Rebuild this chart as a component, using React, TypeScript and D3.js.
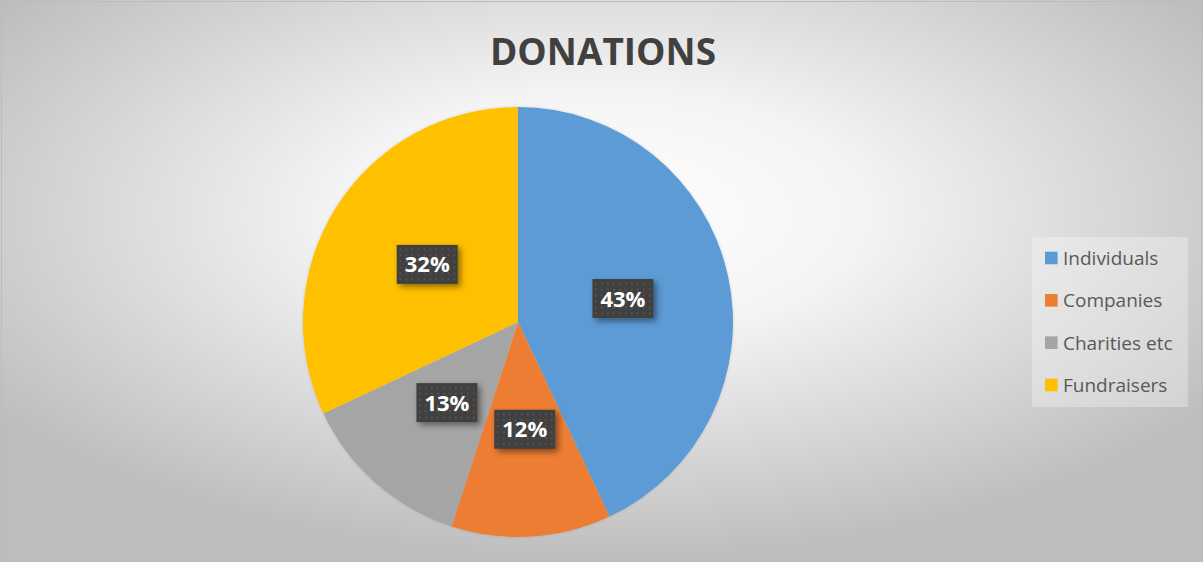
import React from "react";
import * as d3 from "d3";

const categories = ["Individuals", "Companies", "Charities etc", "Fundraisers"];
const values = [43, 12, 13, 32];
const colors = ["#5B9BD5", "#ED7D31", "#A5A5A5", "#FFC000"];
const title = "DONATIONS";

const W = 1203;
const H = 562;

export default function App() {
  const cx = 518;
  const cy = 322;
  const r = 215;
  const total = d3.sum(values);
  const pie = d3.pie<number>().sort(null).value((d) => d)(values);
  const arc = d3.arc<d3.PieArcDatum<number>>().innerRadius(0).outerRadius(r);
  const fmt = d3.format(".0%");

  const legendY = d3.scalePoint<string>().domain(categories).range([258, 385]);

  return (
    <div style={{ position: "absolute", left: 0, top: 0 }}>
      <svg width={W} height={H} style={{ display: "block" }}>
        <defs>
          <radialGradient id="bg" cx="50%" cy="38%" r="62%" fx="50%" fy="38%">
            <stop offset="0%" stopColor="#ffffff" />
            <stop offset="35%" stopColor="#f4f4f4" />
            <stop offset="100%" stopColor="#bdbdbd" />
          </radialGradient>
          <pattern id="dots" width="6" height="6" patternUnits="userSpaceOnUse">
            <rect width="6" height="6" fill="#404040" />
            <rect x="2" y="2" width="2" height="2" fill="#525252" />
          </pattern>
          <filter id="shadow" x="-30%" y="-30%" width="160%" height="160%">
            <feDropShadow dx="3" dy="3" stdDeviation="3" floodColor="#000" floodOpacity="0.45" />
          </filter>
          <filter id="pieShadow" x="-10%" y="-10%" width="120%" height="120%">
            <feDropShadow dx="0" dy="0" stdDeviation="1.5" floodColor="#000" floodOpacity="0.15" />
          </filter>
        </defs>
        <rect x={0} y={0} width={W} height={H} fill="url(#bg)" />
        <rect x={1.5} y={1.5} width={W - 3} height={H - 3} fill="none" stroke="#bcbcbc" strokeWidth={1} />

        <text
          x={603}
          y={65}
          textAnchor="middle"
          fontFamily="'Open Sans', sans-serif"
          fontWeight="bold"
          fontSize={37}
          fill="#404040"
        >
          {title}
        </text>

        <g transform={`translate(${cx},${cy})`} filter="url(#pieShadow)">
          {pie.map((p, i) => (
            <path key={i} d={arc(p) || ""} fill={colors[i]} />
          ))}
        </g>
        <g transform={`translate(${cx},${cy})`}>
          {pie.map((p, i) => {
            const [lx, ly] = arc.centroid(p);
            return (
              <g key={i} transform={`translate(${lx},${ly})`}>
                <rect x={-30.5} y={-19.5} width={61} height={39} fill="url(#dots)" filter="url(#shadow)" />
                <text
                  x={0}
                  y={8}
                  textAnchor="middle"
                  fontFamily="'Open Sans', sans-serif"
                  fontWeight="bold"
                  fontSize={22}
                  fill="#ffffff"
                >
                  {fmt(values[i] / total)}
                </text>
              </g>
            );
          })}
        </g>

        <rect x={1032} y={237} width={156} height={170} fill="#ffffff" fillOpacity={0.3} />
        {categories.map((c, i) => {
          const y = legendY(c) as number;
          return (
            <g key={c}>
              <rect x={1045} y={y - 6.3} width={12.6} height={12.6} fill={colors[i]} />
              <text
                x={1063}
                y={y + 7}
                fontFamily="'Open Sans', sans-serif"
                fontSize={19}
                fill="#595959"
              >
                {c}
              </text>
            </g>
          );
        })}
      </svg>
    </div>
  );
}
